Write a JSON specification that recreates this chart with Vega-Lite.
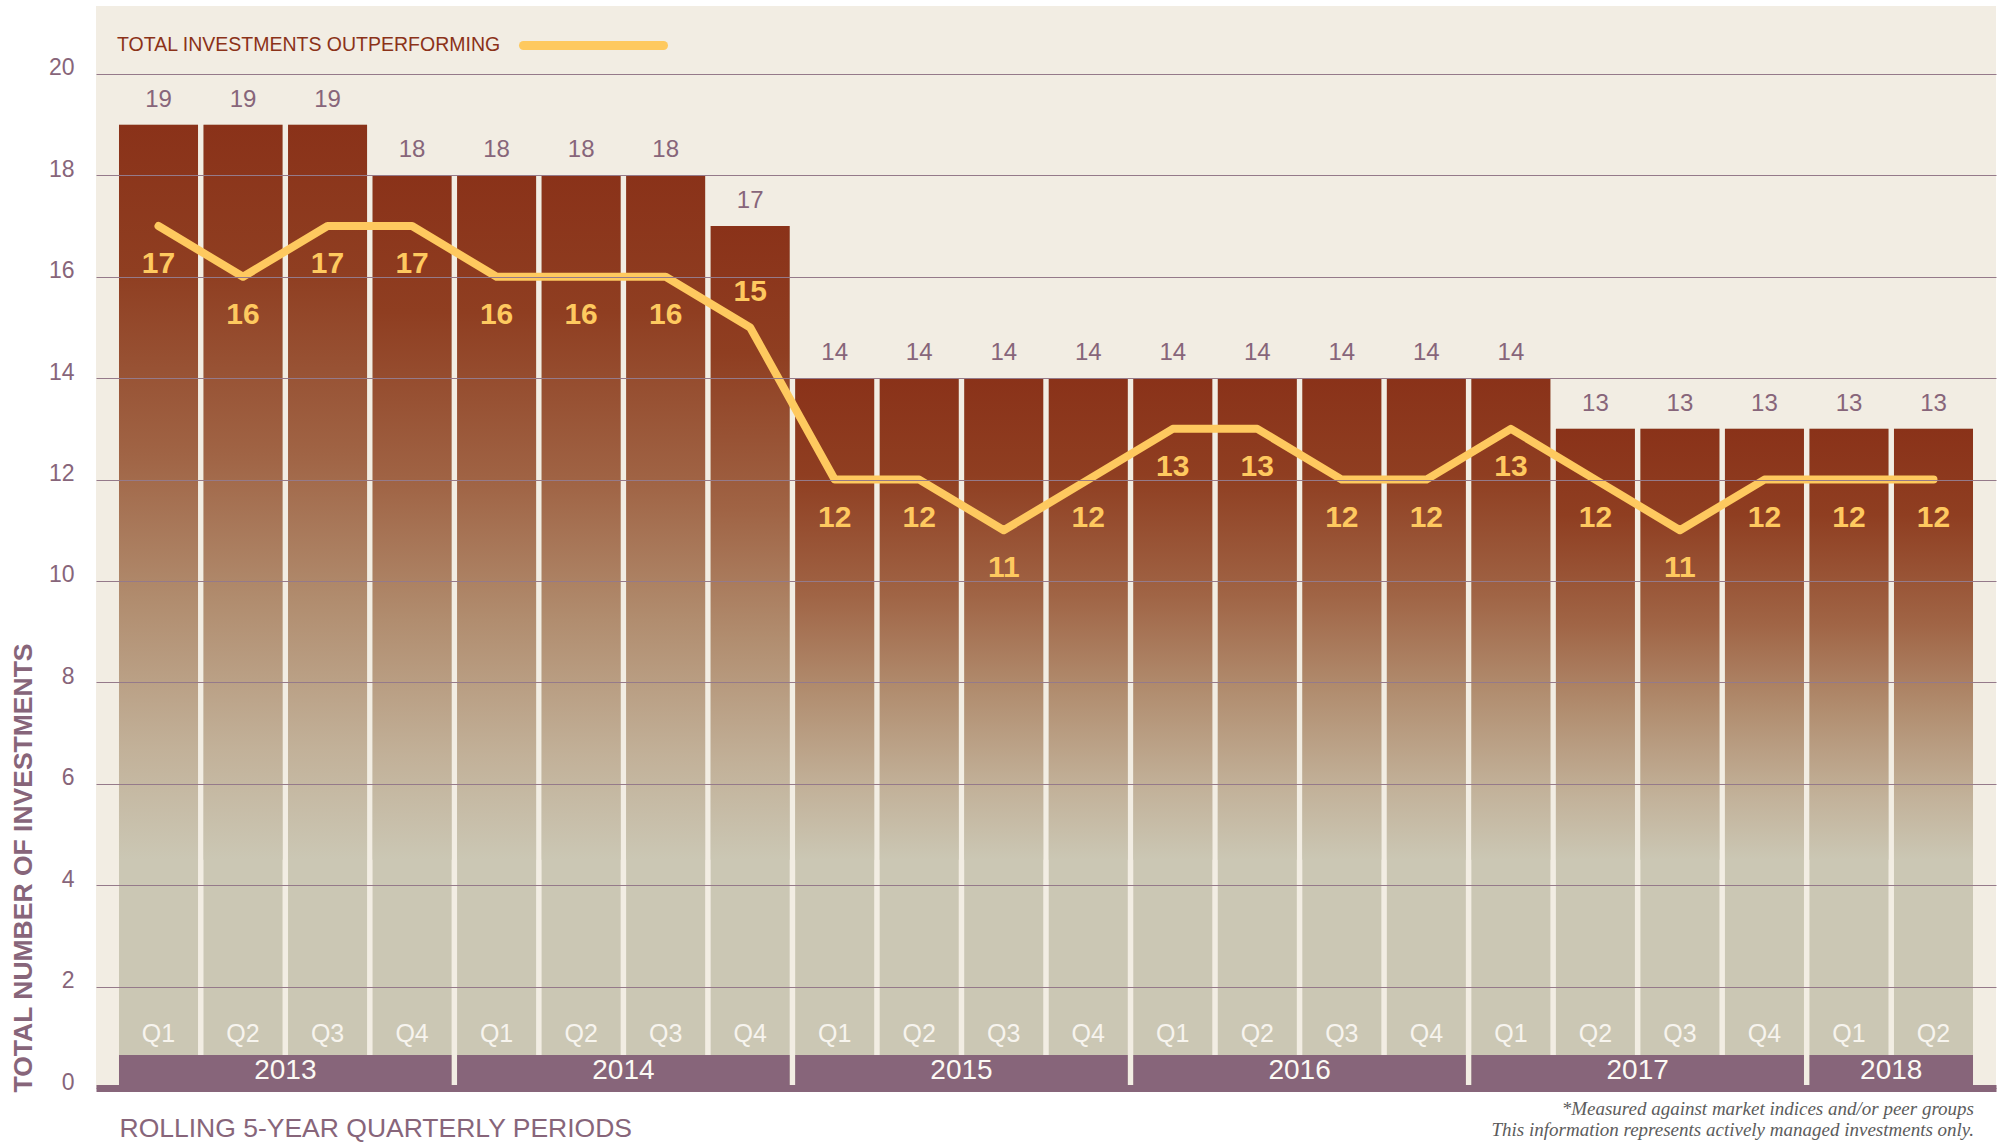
{
  "$schema": "https://vega.github.io/schema/vega-lite/v6.json",
  "width": 1900,
  "height": 1082,
  "autosize": {"type": "none"},
  "padding": {"left": 96, "top": 6, "right": 4, "bottom": 54},
  "background": "#ffffff",
  "config": {
    "view": {"fill": "#f2ede3", "stroke": null},
    "font": "Liberation Sans"
  },
  "title": {
    "text": ["*Measured against market indices and/or peer groups", "This information represents actively managed investments only."],
    "orient": "bottom",
    "anchor": "end",
    "frame": "group",
    "font": "Liberation Serif",
    "fontStyle": "italic",
    "fontWeight": "normal",
    "fontSize": 19,
    "lineHeight": 21,
    "color": "#5c5c5c",
    "offset": 0,
    "dx": -22,
    "dy": -42
  },
  "datasets": {
    "quarters": [
      {"period": "2013 Q1", "total": 19, "outperforming": 17},
      {"period": "2013 Q2", "total": 19, "outperforming": 16},
      {"period": "2013 Q3", "total": 19, "outperforming": 17},
      {"period": "2013 Q4", "total": 18, "outperforming": 17},
      {"period": "2014 Q1", "total": 18, "outperforming": 16},
      {"period": "2014 Q2", "total": 18, "outperforming": 16},
      {"period": "2014 Q3", "total": 18, "outperforming": 16},
      {"period": "2014 Q4", "total": 17, "outperforming": 15},
      {"period": "2015 Q1", "total": 14, "outperforming": 12},
      {"period": "2015 Q2", "total": 14, "outperforming": 12},
      {"period": "2015 Q3", "total": 14, "outperforming": 11},
      {"period": "2015 Q4", "total": 14, "outperforming": 12},
      {"period": "2016 Q1", "total": 14, "outperforming": 13},
      {"period": "2016 Q2", "total": 14, "outperforming": 13},
      {"period": "2016 Q3", "total": 14, "outperforming": 12},
      {"period": "2016 Q4", "total": 14, "outperforming": 12},
      {"period": "2017 Q1", "total": 14, "outperforming": 13},
      {"period": "2017 Q2", "total": 13, "outperforming": 12},
      {"period": "2017 Q3", "total": 13, "outperforming": 11},
      {"period": "2017 Q4", "total": 13, "outperforming": 12},
      {"period": "2018 Q1", "total": 13, "outperforming": 12},
      {"period": "2018 Q2", "total": 13, "outperforming": 12}
    ],
    "years": [
      {"year": "2013", "first": "2013 Q1", "last": "2013 Q4", "mid": "2013 Q2"},
      {"year": "2014", "first": "2014 Q1", "last": "2014 Q4", "mid": "2014 Q2"},
      {"year": "2015", "first": "2015 Q1", "last": "2015 Q4", "mid": "2015 Q2"},
      {"year": "2016", "first": "2016 Q1", "last": "2016 Q4", "mid": "2016 Q2"},
      {"year": "2017", "first": "2017 Q1", "last": "2017 Q4", "mid": "2017 Q2"},
      {"year": "2018", "first": "2018 Q1", "last": "2018 Q2", "mid": "2018 Q1"}
    ]
  },
  "layer": [
    {
      "data": {"name": "quarters"},
      "mark": {"type": "bar", "fill": "#cbc7b4"},
      "encoding": {
        "x": {
          "field": "period",
          "type": "nominal",
          "sort": null,
          "title": "ROLLING 5-YEAR QUARTERLY PERIODS",
          "scale": {
            "domain": ["2013 Q1","2013 Q2","2013 Q3","2013 Q4","2014 Q1","2014 Q2","2014 Q3","2014 Q4","2015 Q1","2015 Q2","2015 Q3","2015 Q4","2016 Q1","2016 Q2","2016 Q3","2016 Q4","2017 Q1","2017 Q2","2017 Q3","2017 Q4","2018 Q1","2018 Q2"],
            "paddingInner": 0.065,
            "paddingOuter": 0.272
          },
          "axis": {
            "titleX": 23,
            "titleY": 48,
            "titleAlign": "left",
            "titleAnchor": "start",
            "titleBaseline": "alphabetic",
            "titleColor": "#87657a",
            "titleFontSize": 26.5,
            "titleFontWeight": "normal",
            "labelExpr": "split(datum.value, ' ')[1]",
            "labelAngle": 0,
            "labelPadding": -55,
            "labelBaseline": "middle",
            "labelColor": "#f7f4ee",
            "labelFontSize": 25,
            "labelOverlap": false,
            "ticks": false,
            "domainColor": "#87657a",
            "domainWidth": 7,
            "grid": false,
            "zindex": 1
          }
        },
        "y": {
          "field": "total",
          "type": "quantitative",
          "title": "TOTAL NUMBER OF INVESTMENTS",
          "scale": {"domain": [0, 21.34], "nice": false},
          "axis": {
            "values": [0, 2, 4, 6, 8, 10, 12, 14, 16, 18, 20],
            "titleX": -73,
            "titleY": 1086,
            "titleAngle": 270,
            "titleAlign": "left",
            "titleBaseline": "middle",
            "titleColor": "#87657a",
            "titleFontSize": 26.5,
            "titleFontWeight": "bold",
            "labelColor": "#87657a",
            "labelFontSize": 23,
            "labelPadding": 22,
            "labelBaseline": "middle",
            "labelOffset": -6,
            "ticks": false,
            "domain": false,
            "grid": true,
            "gridColor": "#957a8a",
            "gridWidth": 1,
            "zindex": 1
          }
        }
      }
    },
    {
      "data": {"name": "quarters"},
      "mark": {
        "type": "bar",
        "fill": {
          "gradient": "linear",
          "x1": 0, "y1": 0, "x2": 0, "y2": 1,
          "stops": [
            {"offset": 0, "color": "#8a3219"},
            {"offset": 0.2, "color": "#8f3e21"},
            {"offset": 0.45, "color": "#a06445"},
            {"offset": 0.65, "color": "#b18d6f"},
            {"offset": 0.85, "color": "#c2b199"},
            {"offset": 1, "color": "#cbc7b4"}
          ]
        }
      },
      "encoding": {
        "x": {"field": "period", "type": "nominal", "sort": null, "title": "ROLLING 5-YEAR QUARTERLY PERIODS"},
        "y": {"field": "total", "type": "quantitative", "title": "TOTAL NUMBER OF INVESTMENTS"},
        "y2": {"datum": 4.5}
      }
    },
    {
      "data": {"name": "quarters"},
      "mark": {"type": "text", "dy": -25, "baseline": "middle", "fontSize": 24, "color": "#87657a"},
      "encoding": {
        "x": {"field": "period", "type": "nominal", "sort": null, "title": "ROLLING 5-YEAR QUARTERLY PERIODS"},
        "y": {"field": "total", "type": "quantitative", "title": "TOTAL NUMBER OF INVESTMENTS"},
        "text": {"field": "total", "type": "quantitative"}
      }
    },
    {
      "data": {"name": "years"},
      "mark": {"type": "rect", "color": "#87657a"},
      "encoding": {
        "x": {"field": "first", "type": "nominal", "sort": null, "bandPosition": 0, "title": "ROLLING 5-YEAR QUARTERLY PERIODS"},
        "x2": {"field": "last", "bandPosition": 1},
        "y": {"datum": 0, "type": "quantitative", "title": "TOTAL NUMBER OF INVESTMENTS"},
        "y2": {"datum": 0.65}
      }
    },
    {
      "data": {"name": "years"},
      "mark": {"type": "text", "baseline": "middle", "align": "center", "fontSize": 28, "color": "#fbf9f4"},
      "encoding": {
        "x": {"field": "mid", "type": "nominal", "sort": null, "bandPosition": 1.035, "title": "ROLLING 5-YEAR QUARTERLY PERIODS"},
        "y": {"datum": 0.33, "type": "quantitative", "title": "TOTAL NUMBER OF INVESTMENTS"},
        "text": {"field": "year", "type": "nominal"}
      }
    },
    {
      "data": {"name": "quarters"},
      "mark": {"type": "line", "strokeWidth": 8, "strokeCap": "round", "strokeJoin": "round"},
      "encoding": {
        "x": {"field": "period", "type": "nominal", "sort": null, "title": "ROLLING 5-YEAR QUARTERLY PERIODS"},
        "y": {"field": "outperforming", "type": "quantitative", "title": "TOTAL NUMBER OF INVESTMENTS"},
        "color": {
          "datum": "TOTAL INVESTMENTS OUTPERFORMING",
          "type": "nominal",
          "scale": {"range": ["#fec95f"]},
          "legend": {
            "orient": "none",
            "legendX": 21,
            "legendY": 30,
            "title": "TOTAL INVESTMENTS OUTPERFORMING",
            "titleOrient": "left",
            "titleLimit": 1000,
            "titleFontSize": 19.5,
            "titleFontWeight": "normal",
            "titleColor": "#8b3219",
            "titleBaseline": "top",
            "titleAnchor": "start",
            "titlePadding": 83,
            "symbolType": "M-14,0H14",
            "symbolSize": 100,
            "symbolStrokeWidth": 9,
            "symbolStrokeColor": "#fec95f",
            "symbolFillColor": "#fec95f",
            "labelExpr": "''",
            "labelFontSize": 1,
            "labelOffset": 0,
            "padding": 0,
            "encode": {"symbols": {"update": {"strokeCap": {"value": "round"}}}}
          }
        }
      }
    },
    {
      "data": {"name": "quarters"},
      "transform": [{"filter": "datum.period != '2014 Q4'"}],
      "mark": {"type": "text", "dy": 38, "baseline": "middle", "fontSize": 30, "fontWeight": "bold", "color": "#fec95f"},
      "encoding": {
        "x": {"field": "period", "type": "nominal", "sort": null, "title": "ROLLING 5-YEAR QUARTERLY PERIODS"},
        "y": {"field": "outperforming", "type": "quantitative", "title": "TOTAL NUMBER OF INVESTMENTS"},
        "text": {"field": "outperforming", "type": "quantitative"}
      }
    },
    {
      "data": {"name": "quarters"},
      "transform": [{"filter": "datum.period == '2014 Q4'"}],
      "mark": {"type": "text", "dy": -35, "baseline": "middle", "fontSize": 30, "fontWeight": "bold", "color": "#fec95f"},
      "encoding": {
        "x": {"field": "period", "type": "nominal", "sort": null, "title": "ROLLING 5-YEAR QUARTERLY PERIODS"},
        "y": {"field": "outperforming", "type": "quantitative", "title": "TOTAL NUMBER OF INVESTMENTS"},
        "text": {"field": "outperforming", "type": "quantitative"}
      }
    }
  ]
}
